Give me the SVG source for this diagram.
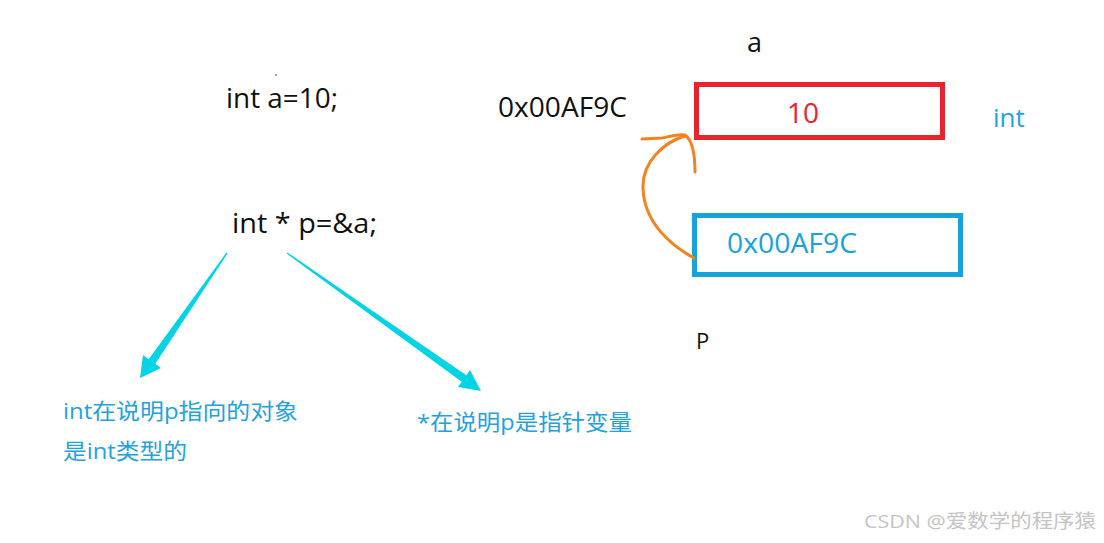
<svg xmlns="http://www.w3.org/2000/svg" width="1104" height="543" viewBox="0 0 1104 543">
<style>
  .t{font-family:"Open Sans","Noto Sans CJK SC",sans-serif;}
  .blk{fill:#111;font-size:27px;}
  .lbl{fill:#1fa2e0;font-size:22px;}
  .box{fill:none;stroke-width:5;}
</style>
<rect width="1104" height="543" fill="#fff"/>
<g id="code">
  <circle cx="276" cy="75" r="0.9" fill="#777"/>
  <text class="t blk" x="226" y="108" textLength="112" lengthAdjust="spacingAndGlyphs">int a=10;</text>
  <text class="t blk" x="232" y="233" textLength="145" lengthAdjust="spacingAndGlyphs">int * p=&amp;a;</text>
</g>
<g id="addr-label">
  <text class="t blk" x="498" y="117" textLength="129" lengthAdjust="spacingAndGlyphs">0x00AF9C</text>
</g>
<g id="var-a">
  <text class="t blk" x="747" y="52">a</text>
  <rect class="box" x="696.5" y="84.5" width="246" height="53" stroke="#e8232d"/>
  <text class="t" x="787" y="123" font-size="28" fill="#e8232d">10</text>
  <text class="t" x="993" y="127" font-size="26" fill="#1fa2e0">int</text>
</g>
<g id="var-p">
  <rect class="box" x="694.5" y="215.5" width="266" height="59" stroke="#17a2dd"/>
  <text class="t" x="727" y="253" font-size="27" fill="#17a2dd" textLength="130" lengthAdjust="spacingAndGlyphs">0x00AF9C</text>
  <text class="t" x="696" y="349" font-size="22" fill="#111">P</text>
</g>
<g id="notes">
  <text class="t lbl" x="63" y="419" textLength="235" lengthAdjust="spacingAndGlyphs">int在说明p指向的对象</text>
  <text class="t lbl" x="63" y="459" textLength="124" lengthAdjust="spacingAndGlyphs">是int类型的</text>
  <text class="t lbl" x="417" y="430" textLength="215" lengthAdjust="spacingAndGlyphs">*在说明p是指针变量</text>
</g>
<g id="connectors">
  <path d="M694,258 C670,245 644,222 643,188 C642,162 664,142 685,136" fill="none" stroke="#f5821f" stroke-width="3" stroke-linecap="round"/>
  <path d="M642,139 L662,138 C672,136 679,134 685,135 C692,140 695,152 695,172" fill="none" stroke="#f5821f" stroke-width="3" stroke-linecap="round" stroke-linejoin="round"/>
  <polygon points="227.6,253.4 155.3,363.8 161,368 140,378 143,355 148.7,359.2 226.4,252.6" fill="#02d4e6"/>
  <polygon points="287.4,252.4 466.3,375.2 470,370 481,391 458,387 461.7,381.8 286.6,253.6" fill="#02d4e6"/>
</g>
<g id="watermark">
  <text class="t" x="864" y="528" font-size="19" fill="#c4c4c4" textLength="232" lengthAdjust="spacingAndGlyphs">CSDN @爱数学的程序猿</text>
</g>
</svg>
